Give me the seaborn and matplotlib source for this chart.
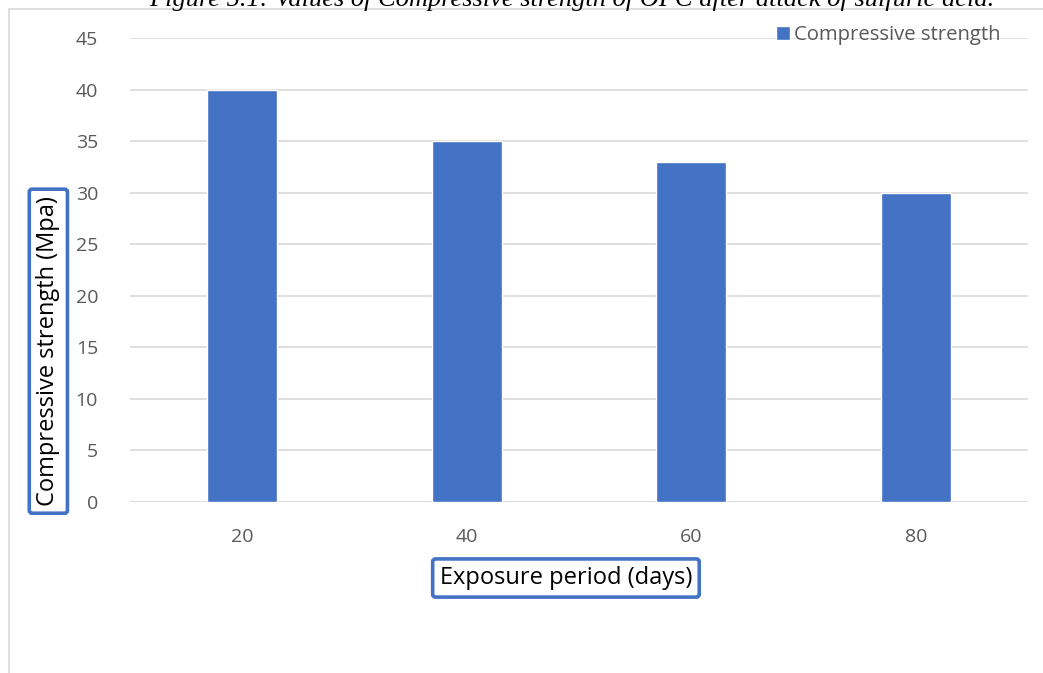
import matplotlib.pyplot as plt
import seaborn as sns
import pandas as pd
from matplotlib.lines import Line2D

# data
days = ["20", "40", "60", "80"]
strength = [40, 35, 33, 30]
y_ticks = [0, 5, 10, 15, 20, 25, 30, 35, 40, 45]

caption = "Figure 5.1: Values of Compressive strength of OPC after attack of sulfuric acid."

blue = "#4472C4"
grid_grey = "#D9D9D9"
tick_grey = "#595959"

sns.set_theme(style="white")
plt.rcParams["font.family"] = ["Open Sans", "DejaVu Sans"]

df = pd.DataFrame({"days": days, "strength": strength})

fig = plt.figure(figsize=(10.43, 6.73), dpi=100)
ax = fig.add_axes([0.1246, 0.2541, 0.861, 0.6894])

sns.barplot(data=df, x="days", y="strength", color=blue, width=0.31,
            saturation=1, label="Compressive strength", ax=ax)

ax.set_ylim(0, 45)
ax.set_xlim(-0.5, 3.5)
ax.set_yticks(y_ticks)
ax.yaxis.grid(True, color=grid_grey, linewidth=1.2)
ax.set_axisbelow(True)
for s in ax.spines.values():
    s.set_visible(False)
ax.axhline(0, color=grid_grey, linewidth=1.2, zorder=0.5)
ax.tick_params(axis="both", length=0, labelsize=14, labelcolor=tick_grey)
ax.tick_params(axis="x", pad=19)
ax.tick_params(axis="y", pad=23)

box = dict(boxstyle="round,pad=0.3,rounding_size=0.12", fc="white", ec=blue, lw=2.6)
ax.set_ylabel("Compressive strength (Mpa)", fontsize=17, color="black", bbox=box)
ax.yaxis.set_label_coords(-0.0775, 0.325)
ax.set_xlabel("Exposure period (days)", fontsize=17, color="black", bbox=box)
ax.xaxis.set_label_coords(0.4855, -0.138)

ax.legend(loc="center right", bbox_to_anchor=(0.978, 1.006), frameon=False,
          fontsize=14.6, labelcolor=tick_grey, handlelength=0.65, handleheight=0.65,
          handletextpad=0.2, borderaxespad=0)

# outer chart frame (partly visible)
fig.add_artist(Line2D([9 / 1043, 9 / 1043], [0, 1 - 9 / 673], color=grid_grey, lw=1.2))
fig.add_artist(Line2D([9 / 1043, 1], [1 - 9 / 673, 1 - 9 / 673], color=grid_grey, lw=1.2))

# caption of the source document, cropped at the top edge
fig.text(0.548, 1 - 6 / 673, caption, ha="center", va="baseline", fontsize=19,
         style="italic", family=["Liberation Serif", "DejaVu Serif"], color="black")

fig.savefig("out.png", dpi=100)
plt.close(fig)
